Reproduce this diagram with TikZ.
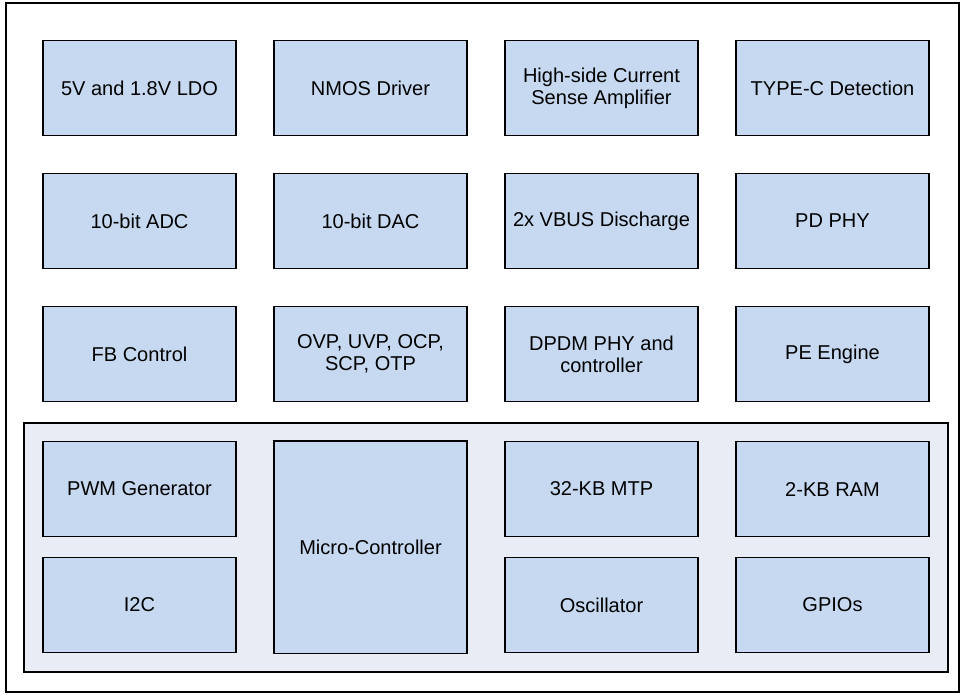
\documentclass[tikz,border=0pt]{standalone}
\usepackage{fontspec}
\setmainfont{Liberation Sans}
\definecolor{blockblue}{RGB}{198,217,240}
\definecolor{panelgray}{RGB}{232,237,245}

\begin{document}
\begin{tikzpicture}[x=0.02cm,y=-0.02cm,line width=1.1pt,
  blk/.style={draw=black,fill=blockblue,rectangle,minimum width=3.86cm,minimum height=1.9cm,
    align=center,inner sep=2pt,font=\fontsize{11.4}{12.6}\selectfont}]
  \useasboundingbox (0,0) rectangle (969,694);
  % ===================== marco exterior =====================
  \draw[line width=1pt] (6,3) rectangle (959,692);
  % ===================== fila 1 =====================
  \node[blk] (ldo) at (139.5,88) {5V and 1.8V LDO};
  \node[blk] (nmos) at (370.5,88) {NMOS Driver};
  \node[blk] (csa) at (601.5,88) {High-side Current\\Sense Amplifier};
  \node[blk] (typec) at (832.5,88) {TYPE-C Detection};
  % ===================== fila 2 =====================
  \node[blk] (adc) at (139.5,221) {10-bit ADC};
  \node[blk] (dac) at (370.5,221) {10-bit DAC};
  \node[blk] (vbus) at (601.5,221) {2x VBUS Discharge};
  \node[blk] (pdphy) at (832.5,221) {PD PHY};
  % ===================== fila 3 =====================
  \node[blk] (fb) at (139.5,354) {FB Control};
  \node[blk] (prot) at (370.5,354) {OVP, UVP, OCP,\\SCP, OTP};
  \node[blk] (dpdm) at (601.5,354) {DPDM PHY and\\controller};
  \node[blk] (pe) at (832.5,354) {PE Engine};
  % ===================== bloque MCU (abajo) =====================
  \fill[panelgray] (24,423) rectangle (948,672); \draw (24,423) rectangle (948,672);
  \node[blk] (pwm) at (139.5,489) {PWM Generator};
  \node[blk] (i2c) at (139.5,605) {I2C};
  \node[blk,minimum height=4.26cm] (mcu) at (370.5,547) {Micro-Controller};
  \node[blk] (mtp) at (601.5,489) {32-KB MTP};
  \node[blk] (ram) at (832.5,489) {2-KB RAM};
  \node[blk] (osc) at (601.5,605) {Oscillator};
  \node[blk] (gpio) at (832.5,605) {GPIOs};
\end{tikzpicture}
\end{document}
